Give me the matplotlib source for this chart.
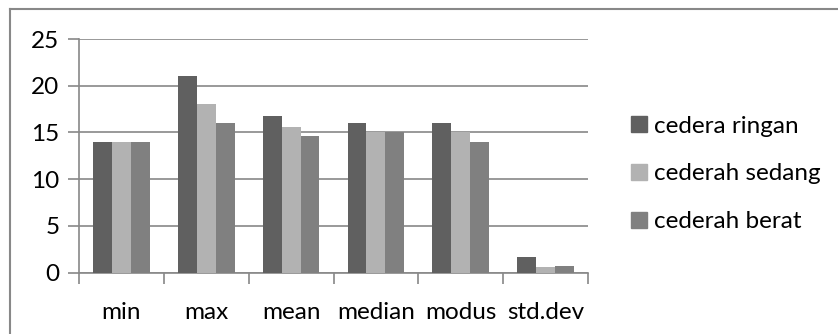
import matplotlib
matplotlib.use("Agg")
import matplotlib.pyplot as plt
from matplotlib.lines import Line2D
import numpy as np

categories = ["min", "max", "mean", "median", "modus", "std.dev"]
series_names = ["cedera ringan", "cederah sedang", "cederah berat"]
ringan = [14, 21, 16.8, 16, 16, 1.7]
sedang = [14, 18, 15.55, 15, 15, 0.65]
berat = [14, 16, 14.65, 15, 14, 0.72]
colors = ["#606060", "#b2b2b2", "#808080"]
yticks = [0, 5, 10, 15, 20, 25]

plt.rcParams['font.family'] = ['Lato', 'DejaVu Sans']
FS = 17.5

W, H = 838, 334
fig = plt.figure(figsize=(W / 100, H / 100), dpi=100)
ax = fig.add_axes([79 / W, 1 - 272.7 / H, (588 - 79) / W, (272.7 - 39) / H])

n = len(categories)
x = np.arange(n)
bw = 1 / 4.5
data = [ringan, sedang, berat]
for i, (vals, c, name) in enumerate(zip(data, colors, series_names)):
    ax.bar(x + (i - 1) * bw, vals, width=bw, color=c, label=name, zorder=3)

ax.set_xlim(-0.5, n - 0.5)
ax.set_ylim(0, 25)
ax.set_yticks(yticks)
ax.yaxis.grid(True, color="#888888", linewidth=1.2, zorder=0)
for s in ["top", "right"]:
    ax.spines[s].set_visible(False)
for s in ["left", "bottom"]:
    ax.spines[s].set_color("#888888")
    ax.spines[s].set_linewidth(1.2)

ax.set_xticks(x)
ax.set_xticklabels(categories, fontsize=FS)
ax.tick_params(axis="x", length=0, pad=21)
ax.set_xticks(np.arange(n + 1) - 0.5, minor=True)
ax.tick_params(axis="x", which="minor", length=8, color="#888888", width=1.2)
ax.tick_params(axis="y", length=8, color="#888888", width=1.2, labelsize=FS, pad=6)
ax.set_yticklabels([str(v) for v in yticks])

handles = [plt.Rectangle((0, 0), 1, 1, color=c) for c in colors]
fig.legend(handles, series_names, loc="center left",
           bbox_to_anchor=(609 / W, 1 - 174 / H), frameon=False,
           fontsize=FS, handlelength=0.65, handleheight=0.65,
           handletextpad=0.3, labelspacing=1.1)

fig.add_artist(Line2D([9.5 / W, 9.5 / W], [0, 1 - 9 / H], color="#888888", linewidth=1.5))
fig.add_artist(Line2D([9.5 / W, 1], [1 - 9 / H, 1 - 9 / H], color="#888888", linewidth=1.5))

fig.savefig("out.png", dpi=100)
